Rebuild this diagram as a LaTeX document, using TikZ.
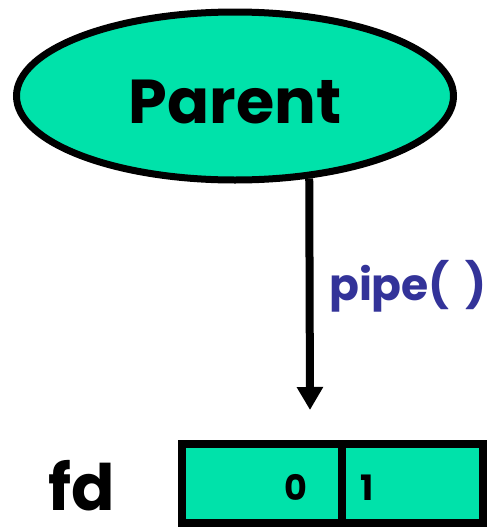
\documentclass[tikz,border=0pt]{standalone}
\usepackage{fontspec}
\setmainfont{Poppins}
\usepackage{tikz}
\usetikzlibrary{arrows.meta}
\usetikzlibrary{shapes}
\usetikzlibrary{positioning}
\definecolor{mint}{RGB}{0,226,170}
\definecolor{pipeblue}{RGB}{51,51,153}
\tikzset{
  proc/.style={ellipse, draw, line width=7pt, fill=mint, inner sep=0pt,
    minimum width=437pt, minimum height=168pt, text height=54pt, text depth=0pt,
    font=\fontsize{62}{62}\selectfont\bfseries},
  slot/.style={rectangle, draw, line width=8pt, fill=mint, inner sep=0pt,
    minimum height=79pt},
  digit/.style={anchor=base, inner sep=0pt, font=\fontsize{35}{35}\selectfont\bfseries}
}

\begin{document}
\begin{tikzpicture}[x=1pt, y=-1pt]
  \useasboundingbox (0,0) rectangle (487,528);
  \node[proc] (parent) at (235,96) {Parent};
  \node[slot, minimum width=160pt] (slot0) at (262,483.5) {};
  \node[slot, minimum width=141pt] (slot1) at (412.5,483.5) {};
  \node[digit] (zero) at (296,500) {0};
  \node[digit] (one) at (367,500) {1};
  \node[anchor=base, inner sep=0pt, font=\fontsize{64}{64}\selectfont\bfseries] (fd) at (82,510) {fd};
  \coordinate (tip) at (310,410);
  \draw[line width=8pt, -{Triangle[width=25pt,length=23pt]}] (parent.-48) -- (tip);
  \node[anchor=base, inner sep=0pt, text=pipeblue, font=\fontsize{44}{44}\selectfont\bfseries] (call) at (408,300) {pipe( \hspace{0.15em})};
\end{tikzpicture}
\end{document}
